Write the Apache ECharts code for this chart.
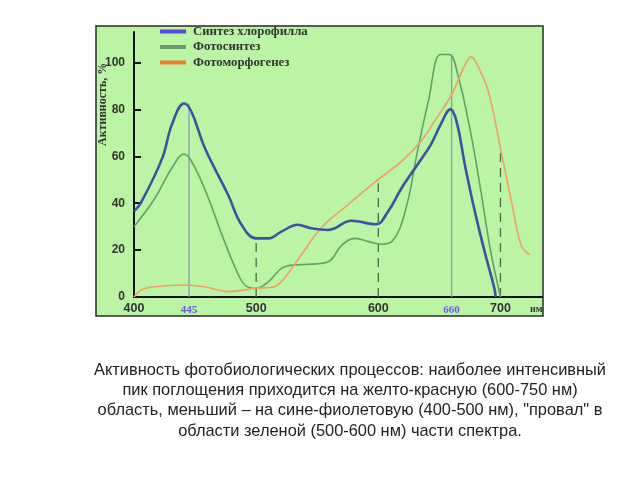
<!DOCTYPE html>
<html>
<head>
<meta charset="utf-8">
<script src="https://cdn.jsdelivr.net/npm/echarts@6/dist/echarts.min.js"></script>
<style>html,body{margin:0;padding:0;background:#fff;}#c{width:640px;height:480px;}</style>
</head>
<body>
<div id="c"></div>
<script>
// Wavelength (nm) / activity (%) samples
var chlorophyll = [[400,36.5],[406,40.5],[423,59],[431,73.5],[441,82.5],[447,79],[458,63.5],[477,43.6],[488,30.8],[500,25],[510,25],[521,28],[534,30.8],[545,29.3],[559,28.6],[578,32.5],[598,31],[608,36.5],[619,46.4],[632,56.4],[643,65],[651,73.5],[659,80],[664,75],[671,56],[679,36.5],[687,19.4],[695,3.7],[696,0]];
var photosynthesis = [[400,30],[417,42],[431,55],[441,61],[450,55],[461,42],[472,26.5],[483,12.3],[491,5],[500,3.7],[510,6.5],[521,12.3],[532,13.7],[545,14],[559,15],[570,22],[581,25],[592,23.6],[602,22.5],[611,23.6],[622,36.5],[632,62],[641,83.5],[651,103.4],[658,103.4],[665,95],[676,69],[684,45],[692,19.4],[699,2.3],[700,0]];
var photomorpho = [[400,0],[406,3],[417,4.4],[441,5.1],[458,4.4],[477,2.3],[500,3.7],[515,4.4],[523,8],[537,18],[553,29.3],[575,39.3],[598,49.3],[619,57.8],[635,66.4],[646,75],[660,86.3],[671,99],[676,102.4],[681,99],[690,87.7],[700,63.5],[709,40.7],[717,22],[724,18]];
var solidGuides = [[445,82.5],[660,103.4]];
var dashedGuides = [[500,25],[600,48.5],[700,63]];
var seriesNames = ['Синтез хлорофилла','Фотосинтез','Фотоморфогенез'];
var xTicks = [400,445,500,600,660,700];
var xHighlight = [445,660];
var yTicks = [0,20,40,60,80,100];
var xUnit = 'нм';
var yName = 'Активность, %';
var caption = ['Активность фотобиологических процессов: наиболее интенсивный',
  'пик поглощения приходится на желто-красную (600-750 нм)',
  'область, меньший – на сине-фиолетовую (400-500 нм), "провал" в',
  'области зеленой (500-600 нм) части спектра.'];

function guideSeries(list, type, color) {
  return list.map(function (g) {
    return {
      type: 'line', data: [[g[0], 0], [g[0], g[1]]], symbol: 'none', silent: true,
      lineStyle: { color: color, width: 1.3, type: type, dashOffset: 0 }, z: 1
    };
  });
}

var chart = echarts.init(document.getElementById('c'));
var series = [].concat(
  guideSeries(solidGuides, 'solid', '#8c9ab8'),
  guideSeries(dashedGuides, [9, 6], '#4a6a4a'),
  [
    { name: seriesNames[1], type: 'line', data: photosynthesis, smooth: 0.4, symbol: 'none',
      lineStyle: { color: '#5fa466', width: 1.6 }, z: 3 },
    { name: seriesNames[2], type: 'line', data: photomorpho, smooth: 0.4, symbol: 'none',
      lineStyle: { color: '#f49c68', width: 1.6 }, z: 3 },
    { name: seriesNames[0], type: 'line', data: chlorophyll, smooth: 0.4, symbol: 'none',
      lineStyle: { color: '#3f529e', width: 2.6 }, z: 4 }
  ]
);

chart.setOption({
  animation: false,
  backgroundColor: '#ffffff',
  graphic: [
    { type: 'rect', z: -10, shape: { x: 96, y: 26, width: 447, height: 290 },
      style: { fill: '#baf4a4', stroke: '#2a2a2a', lineWidth: 1.5 } },
    { type: 'text', z: 10, rotation: Math.PI / 2, x: 97, y: 146,
      style: { text: yName, font: 'bold 12px "Liberation Serif", serif', fill: '#333' } }
  ].concat(caption.map(function (t, i) {
    return { type: 'text', z: 10, x: 350, y: 370 + i * 20.4,
      style: { text: t, font: '16.4px "Liberation Sans", Arial, sans-serif', fill: '#222', align: 'center', verticalAlign: 'middle' } };
  })),
  legend: {
    orient: 'vertical', left: 155, top: 20, itemWidth: 26, itemHeight: 4, itemGap: 2.5, icon: 'rect',
    textStyle: { fontFamily: '"Liberation Serif", serif', fontWeight: 'bold', fontSize: 12.8, color: '#333', padding: [0, 0, 0, 2] },
    data: [
      { name: seriesNames[0], itemStyle: { color: '#5a44e0' } },
      { name: seriesNames[1], itemStyle: { color: '#6d9a72' } },
      { name: seriesNames[2], itemStyle: { color: '#f07c30' } }
    ]
  },
  grid: { left: 134, right: 98, top: 32, bottom: 183, containLabel: false },
  xAxis: {
    type: 'value', min: 400, max: 734,
    name: xUnit, nameLocation: 'end', nameGap: -12,
    nameTextStyle: { fontFamily: '"Liberation Serif", serif', fontWeight: 'bold', fontSize: 10, color: '#333', verticalAlign: 'top', padding: [7, 0, 0, 0] },
    axisLine: { show: true, onZero: false, lineStyle: { color: '#111', width: 2 } },
    axisTick: { show: false },
    splitLine: { show: false },
    axisLabel: {
      customValues: xTicks, margin: 5,
      formatter: function (v) { return xHighlight.indexOf(v) >= 0 ? '{p|' + v + '}' : '{n|' + v + '}'; },
      rich: {
        n: { fontFamily: '"Liberation Sans", Arial, sans-serif', fontWeight: 'bold', fontSize: 12.5, color: '#333' },
        p: { fontFamily: '"Liberation Serif", serif', fontWeight: 'bold', fontSize: 11, color: '#6a5ae0', padding: [3, 0, 0, 0] }
      }
    }
  },
  yAxis: {
    type: 'value', min: 0, max: 113,
    axisLine: { show: true, lineStyle: { color: '#111', width: 2 } },
    axisTick: { show: true, inside: true, length: 7, customValues: yTicks, lineStyle: { color: '#111', width: 2 } },
    splitLine: { show: false },
    axisLabel: { customValues: yTicks, margin: 9, fontFamily: '"Liberation Sans", Arial, sans-serif', fontWeight: 'bold', fontSize: 12, color: '#333' }
  },
  series: series
});
</script>
</body>
</html>
